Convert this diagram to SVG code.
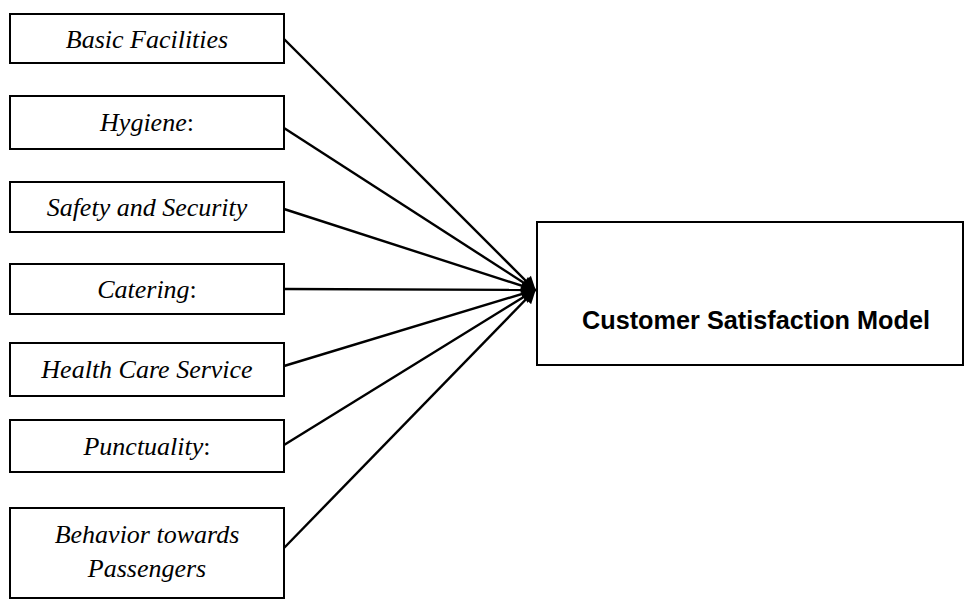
<svg xmlns="http://www.w3.org/2000/svg" width="965" height="600" viewBox="0 0 965 600">
<defs>
<style>
.box{fill:#fff;stroke:#000;stroke-width:2}
.lbl{font-family:"Liberation Serif","Times New Roman",serif;font-style:italic;font-size:26px;fill:#000;text-anchor:middle}
.up{font-style:normal}
.conn line{stroke:#000;stroke-width:2.4;marker-end:url(#ah)}
.main{font-family:"Liberation Sans",Arial,sans-serif;font-weight:bold;font-size:25px;fill:#000}
</style>
<marker id="ah" viewBox="0 0 10 10" refX="9" refY="5" markerWidth="7" markerHeight="6" orient="auto" markerUnits="strokeWidth">
<path d="M0,0 L10,5 L0,10 z" fill="#000"/>
</marker>
</defs>
<rect width="965" height="600" fill="#fff"/>
<g id="n1"><rect class="box" x="10" y="14" width="274" height="49"/><text class="lbl" x="147" y="48">Basic Facilities</text></g>
<g id="n2"><rect class="box" x="10" y="96" width="274" height="53"/><text class="lbl" x="147" y="131">Hygiene<tspan class="up">:</tspan></text></g>
<g id="n3"><rect class="box" x="10" y="182" width="274" height="50"/><text class="lbl" x="147" y="216">Safety and Security</text></g>
<g id="n4"><rect class="box" x="10" y="264" width="274" height="50"/><text class="lbl" x="147" y="298">Catering<tspan class="up">:</tspan></text></g>
<g id="n5"><rect class="box" x="10" y="343" width="274" height="53"/><text class="lbl" x="147" y="378">Health Care Service</text></g>
<g id="n6"><rect class="box" x="10" y="420" width="274" height="52"/><text class="lbl" x="147" y="455">Punctuality<tspan class="up">:</tspan></text></g>
<g id="n7"><rect class="box" x="10" y="508" width="274" height="90"/><text class="lbl" x="147" y="543">Behavior towards</text><text class="lbl" x="147" y="577">Passengers</text></g>
<g id="target"><rect class="box" x="537" y="222" width="426" height="143"/><text class="main" x="582" y="329" textLength="348" lengthAdjust="spacingAndGlyphs">Customer Satisfaction Model</text></g>
<g id="connectors" class="conn">
<line x1="284" y1="39" x2="535" y2="290"/>
<line x1="284" y1="128" x2="535" y2="290"/>
<line x1="284" y1="209" x2="535" y2="290"/>
<line x1="284" y1="289" x2="535" y2="290"/>
<line x1="284" y1="366" x2="535" y2="290"/>
<line x1="284" y1="445" x2="535" y2="290"/>
<line x1="284" y1="548" x2="535" y2="290"/>
</g>
</svg>
